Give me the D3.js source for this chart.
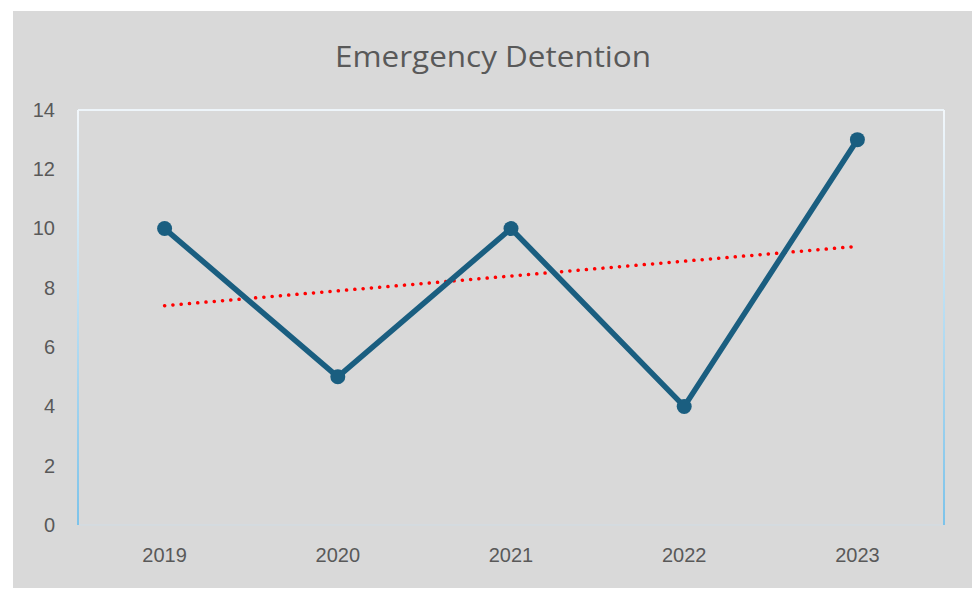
<!DOCTYPE html>
<html><head><meta charset="utf-8">
<script src="https://cdn.jsdelivr.net/npm/d3@7"></script>
<style>body{margin:0;background:#fff;}svg{display:block;}</style>
</head><body>
<svg id="c" width="972" height="593"></svg>
<script>
const title = "Emergency Detention";
const categories = ["2019","2020","2021","2022","2023"];
const values = [10,5,10,4,13];
const yTicks = [0,2,4,6,8,10,12,14];

const svg = d3.select("#c");
const W=972,H=593;
const m={left:78,right:944,top:110,bottom:525};

const defs = svg.append("defs");
const g1 = defs.append("linearGradient").attr("id","vg").attr("x1",0).attr("y1",0).attr("x2",0).attr("y2",1);
g1.append("stop").attr("offset","0%").attr("stop-color","#f2f7fb");
g1.append("stop").attr("offset","100%").attr("stop-color","#7cc3ea");

svg.append("rect").attr("x",13).attr("y",11).attr("width",W-13).attr("height",577).attr("fill","#d9d9d9");

const x = d3.scaleBand().domain(categories).range([m.left,m.right]);
const y = d3.scaleLinear().domain([0,14]).range([m.bottom,m.top]);

// plot border
svg.append("line").attr("x1",m.left).attr("x2",m.right).attr("y1",m.top).attr("y2",m.top).attr("stroke","#eef5fa").attr("stroke-width",2);
svg.append("line").attr("x1",m.left).attr("x2",m.right).attr("y1",m.bottom).attr("y2",m.bottom).attr("stroke","#d0dde6").attr("stroke-width",1);
svg.append("rect").attr("x",m.left-1).attr("y",m.top).attr("width",2).attr("height",m.bottom-m.top).attr("fill","url(#vg)");
svg.append("rect").attr("x",m.right-1).attr("y",m.top).attr("width",2).attr("height",m.bottom-m.top).attr("fill","url(#vg)");

// y axis labels
const ya = svg.append("g").attr("transform",`translate(${m.left},0)`)
  .call(d3.axisLeft(y).tickValues(yTicks).tickSize(0).tickPadding(23));
ya.select(".domain").remove();
ya.selectAll("text").attr("font-family","Liberation Sans, Arial, sans-serif").attr("font-size",20).attr("fill","#595959");

const xa = svg.append("g").attr("transform",`translate(0,${m.bottom})`)
  .call(d3.axisBottom(x).tickSize(0).tickPadding(23));
xa.select(".domain").remove();
xa.selectAll("text").attr("font-family","Liberation Sans, Arial, sans-serif").attr("font-size",20).attr("fill","#595959");

const cx = d=>x(d)+x.bandwidth()/2;

// trend line (least squares)
const n=values.length, mx=(n-1)/2, my=d3.mean(values);
const slope=d3.sum(values,(v,i)=>(i-mx)*(v-my))/d3.sum(values,(v,i)=>(i-mx)**2);
const trend=values.map((v,i)=>my+slope*(i-mx));
svg.append("path").datum(trend)
  .attr("d",d3.line().x((d,i)=>cx(categories[i])).y(d=>y(d)))
  .attr("fill","none").attr("stroke","#ff0000").attr("stroke-width",3.5)
  .attr("stroke-linecap","round").attr("stroke-dasharray","0.1 8.2");

svg.append("path").datum(values)
  .attr("d",d3.line().x((d,i)=>cx(categories[i])).y(d=>y(d)))
  .attr("fill","none").attr("stroke","#1a5e80").attr("stroke-width",5.5).attr("stroke-linejoin","round");

svg.selectAll("circle.pt").data(values).join("circle").attr("class","pt")
  .attr("cx",(d,i)=>cx(categories[i])).attr("cy",d=>y(d)).attr("r",7.5).attr("fill","#1a5e80");

svg.append("text").attr("x",493).attr("y",67).attr("text-anchor","middle")
  .attr("font-family","Open Sans, sans-serif").attr("font-size",30).attr("fill","#595959")
  .attr("textLength",316).attr("lengthAdjust","spacingAndGlyphs").text(title);
</script>
</body></html>
